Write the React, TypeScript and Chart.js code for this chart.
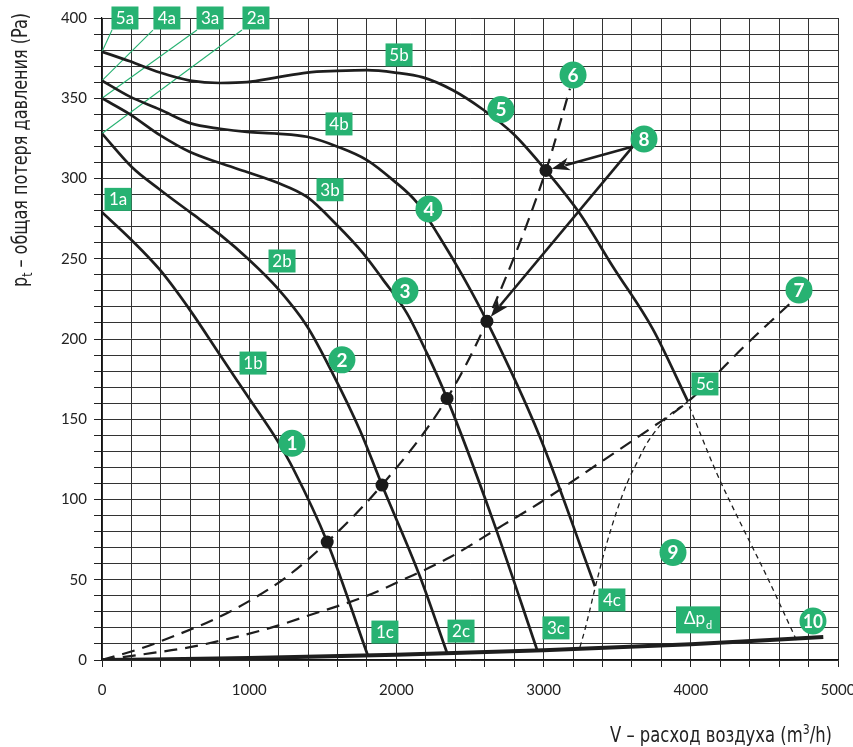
import React, { useEffect, useRef } from "react";
import { Chart, registerables } from "chart.js";

Chart.register(...registerables);

// ---- Fan curves (V m3/h, pt Pa) ----
const FAN1_X = [0, 197, 394, 598, 802, 992, 1189, 1300, 1530, 1805];
const FAN1_Y = [279, 262, 243, 218, 190, 164, 137, 119, 73.5, 3];
const FAN2_X = [0, 204, 394, 598, 802, 992, 1189, 1393, 1570, 1753, 1902, 2160, 2344];
const FAN2_Y = [328, 307, 293, 279, 265, 250, 232, 208, 178, 143, 109, 52, 4.4];
const FAN3_X = [0, 190, 394, 598, 802, 985, 1189, 1393, 1596, 1773, 1909, 2072, 2208, 2344, 2656, 2955];
const FAN3_Y = [350, 340, 327, 316.5, 309.6, 304, 297.5, 288.5, 271, 253.5, 237, 216, 191, 163, 87, 6.5];
const FAN4_X = [0, 190, 394, 598, 802, 985, 1189, 1393, 1596, 1800, 1977, 2140, 2290, 2452, 2615, 2975, 3349];
const FAN4_Y = [361, 351, 343, 334.5, 331, 329, 328, 326, 320, 311.5, 299, 285, 264, 239, 211, 139, 46];
const FAN5_X = [0, 190, 394, 598, 802, 985, 1189, 1393, 1596, 1800, 1990, 2180, 2384, 2588, 2792, 3016, 3247, 3471, 3743, 3981];
const FAN5_Y = [379, 373, 366, 361, 359.5, 360, 363, 366, 367, 367.5, 366, 363, 355, 343, 328, 305, 278, 245, 206, 161];

// ---- Operating points ----
const OP_X = [1530, 1902, 2344, 2615, 3016];
const OP_Y = [73.5, 109, 163, 211, 305];

// ---- System curves (dashed) ----
const SYS6_X = [0, 258, 509, 754, 1005, 1257, 1530, 1902, 2344, 2615, 3016, 3179];
const SYS6_Y = [0, 7, 15.6, 25, 37, 52, 73.5, 109, 163, 211, 305, 356];
const SYS7_X = [0, 346, 598, 1094, 1413, 1800, 2045, 2364, 2724, 2975, 3383, 3722, 3981, 4381, 4673];
const SYS7_Y = [0, 4.4, 8, 18.7, 28, 40, 50, 64, 84, 98, 123, 144, 161, 197, 222];

// ---- Thin dashed boundaries of area 9 ----
const EDGE_L_X = [3247, 3281, 3369, 3430, 3498, 3566, 3634, 3702, 3850, 3981];
const EDGE_L_Y = [8, 19, 52, 73, 93, 110, 123, 135, 152, 161];
const EDGE_R_X = [3990, 4178, 4334, 4517, 4720];
const EDGE_R_Y = [158, 116, 86, 52, 12];

// ---- Dynamic pressure line Δpd ----
const DPD_X = [0, 1000, 2000, 3000, 4000, 4900];
const DPD_Y = [0, 1.2, 3.2, 6, 9.8, 14.3];

// ---- Green leader lines for a-labels ----
const GUIDE_FROM_X = [68, 346, 645, 951];
const GUIDE_FROM_Y = [392.5, 392.5, 392.5, 392.5];
const GUIDE_TO_Y = [379, 361, 350, 328];

// ---- Arrows from label 8 ----
const ARROW_FROM_X = 3607;
const ARROW_FROM_Y = 320;
const ARROW_TO_X = [3016, 2615];
const ARROW_TO_Y = [305, 211];

// ---- Box labels ----
const BOX_TEXT = ["5a", "4a", "3a", "2a", "1a", "1b", "2b", "3b", "4b", "5b", "1c", "2c", "3c", "4c", "5c", "Δp_d"];
const BOX_X = [156, 441, 734, 1046, 109, 1026, 1223, 1549, 1610, 2018, 1922, 2439, 3084, 3464, 4096, 4049];
const BOX_Y = [400, 400, 400, 400, 287, 185, 248.6, 293, 334, 377, 17.4, 18, 20, 37.4, 172, 25];

// ---- Circle labels ----
const CIRCLE_TEXT = ["1", "2", "3", "4", "5", "6", "7", "8", "9", "10"];
const CIRCLE_X = [1291, 1630, 2058, 2221, 2710, 3200, 4735, 3682, 3879, 4830];
const CIRCLE_Y = [135, 187, 230, 281, 343, 364.5, 230.5, 324.6, 67, 24.3];

// ---- Axis ----
const X_MIN = 0, X_MAX = 5000, X_STEP = 200, X_LABEL_EVERY = 1000;
const Y_MIN = 0, Y_MAX = 400, Y_STEP = 10, Y_LABEL_EVERY = 50;
const X_TITLE = ["V – расход воздуха (m", "3", "/h)"];
const Y_TITLE = ["p", "t", " – общая потеря давления (Pa)"];

const GREEN = "#27b272";
const INK = "#1e1e1e";
const TITLE_FONT = '"Liberation Sans Narrow", "DejaVu Sans Condensed", sans-serif';
const LABEL_FONT = 'Lato, "Open Sans", sans-serif';

const pts = (xs: number[], ys: number[]) => xs.map((x, i) => ({ x, y: ys[i] }));

function drawTitle(
  ctx: CanvasRenderingContext2D,
  parts: string[],
  subDy: number,
  targetW: number
) {
  const big = `21px ${TITLE_FONT}`, small = `14px ${TITLE_FONT}`;
  ctx.font = big;
  const w0 = ctx.measureText(parts[0]).width;
  const w2 = ctx.measureText(parts[2]).width;
  ctx.font = small;
  const w1 = ctx.measureText(parts[1]).width;
  const total = w0 + w1 + w2;
  const k = targetW / total;
  ctx.scale(k, 1);
  ctx.font = big;
  ctx.fillText(parts[0], 0, 0);
  ctx.font = small;
  ctx.fillText(parts[1], w0, subDy);
  ctx.font = big;
  ctx.fillText(parts[2], w0 + w1, 0);
}

const annotPlugin = {
  id: "annot",
  afterDatasetsDraw(chart: any) {
    const ctx = chart.ctx as CanvasRenderingContext2D;
    const sx = chart.scales.x, sy = chart.scales.y;
    const px = (v: number) => sx.getPixelForValue(v);
    const py = (v: number) => sy.getPixelForValue(v);
    ctx.save();

    // arrows
    const fx = px(ARROW_FROM_X), fy = py(ARROW_FROM_Y);
    ARROW_TO_X.forEach((tv, i) => {
      const tx = px(tv), ty = py(ARROW_TO_Y[i]);
      const ang = Math.atan2(ty - fy, tx - fx);
      const c = Math.cos(ang), s = Math.sin(ang);
      const tipX = tx - c * 6, tipY = ty - s * 6;
      const hl = 18, hw = 6.5;
      const bx = tipX - c * hl, by = tipY - s * hl;
      ctx.strokeStyle = INK;
      ctx.lineWidth = 2.6;
      ctx.beginPath();
      ctx.moveTo(fx, fy);
      ctx.lineTo(bx + c * 4, by + s * 4);
      ctx.stroke();
      ctx.fillStyle = INK;
      ctx.beginPath();
      ctx.moveTo(tipX, tipY);
      ctx.lineTo(bx - s * hw, by + c * hw);
      ctx.lineTo(bx + c * 5, by + s * 5);
      ctx.lineTo(bx + s * hw, by - c * hw);
      ctx.closePath();
      ctx.fill();
    });

    // boxes
    BOX_TEXT.forEach((t, i) => {
      const cx = px(BOX_X[i]), cy = py(BOX_Y[i]);
      const sub = t.includes("_");
      const w = sub ? 44 : 27, h = sub ? 27 : 23;
      ctx.fillStyle = GREEN;
      ctx.fillRect(cx - w / 2, cy - h / 2, w, h);
      ctx.fillStyle = "#ffffff";
      ctx.textBaseline = "alphabetic";
      if (sub) {
        const [main, s2] = t.split("_");
        ctx.font = `17px ${LABEL_FONT}`;
        const w1 = ctx.measureText(main).width;
        ctx.font = `11px ${LABEL_FONT}`;
        const w2 = ctx.measureText(s2).width;
        const x0 = cx - (w1 + w2 + 1) / 2;
        ctx.textAlign = "left";
        ctx.font = `17px ${LABEL_FONT}`;
        ctx.fillText(main, x0, cy + 4);
        ctx.font = `11px ${LABEL_FONT}`;
        ctx.fillText(s2, x0 + w1 + 1, cy + 9);
      } else {
        ctx.font = `17px ${LABEL_FONT}`;
        ctx.textAlign = "center";
        ctx.fillText(t, cx, cy + 6);
      }
    });

    // circles
    CIRCLE_TEXT.forEach((t, i) => {
      const cx = px(CIRCLE_X[i]), cy = py(CIRCLE_Y[i]);
      ctx.fillStyle = GREEN;
      ctx.beginPath();
      ctx.arc(cx, cy, 13.5, 0, Math.PI * 2);
      ctx.fill();
      ctx.fillStyle = "#ffffff";
      ctx.font = `bold 19px ${LABEL_FONT}`;
      ctx.textAlign = "center";
      ctx.textBaseline = "alphabetic";
      const w = ctx.measureText(t).width;
      if (w > 20) {
        ctx.save();
        ctx.translate(cx, cy + 7);
        ctx.scale(20 / w, 1);
        ctx.fillText(t, 0, 0);
        ctx.restore();
      } else {
        ctx.fillText(t, cx, cy + 7);
      }
    });

    // axis titles
    ctx.fillStyle = "#222";
    ctx.textAlign = "left";
    ctx.textBaseline = "alphabetic";
    ctx.save();
    ctx.translate(610, 742);
    drawTitle(ctx, X_TITLE, -8, 222);
    ctx.restore();

    ctx.save();
    ctx.translate(27, 287);
    ctx.rotate(-Math.PI / 2);
    drawTitle(ctx, Y_TITLE, 5, 274);
    ctx.restore();

    ctx.restore();
  },
};

export default function App() {
  const ref = useRef<HTMLCanvasElement | null>(null);

  useEffect(() => {
    if (!ref.current) return;
    const curve = (xs: number[], ys: number[]) => ({
      data: pts(xs, ys),
      borderColor: INK,
      borderWidth: 2.7,
      pointRadius: 0,
      cubicInterpolationMode: "monotone" as const,
      fill: false,
    });
    const dashed = (xs: number[], ys: number[]) => ({
      data: pts(xs, ys),
      borderColor: INK,
      borderWidth: 2.2,
      borderDash: [13, 8],
      pointRadius: 0,
      cubicInterpolationMode: "monotone" as const,
      fill: false,
    });
    const thin = (xs: number[], ys: number[]) => ({
      data: pts(xs, ys),
      borderColor: INK,
      borderWidth: 1.3,
      borderDash: [5, 4],
      pointRadius: 0,
      cubicInterpolationMode: "monotone" as const,
      fill: false,
    });
    const guides = GUIDE_FROM_X.map((gx, i) => ({
      data: [{ x: gx, y: GUIDE_FROM_Y[i] }, { x: 0, y: GUIDE_TO_Y[i] }],
      borderColor: GREEN,
      borderWidth: 1.1,
      pointRadius: 0,
      tension: 0,
      fill: false,
      clip: false as any,
    }));

    const chart = new Chart(ref.current, {
      type: "line",
      data: {
        datasets: [
          {
            data: pts(OP_X, OP_Y),
            showLine: false,
            pointRadius: 6.5,
            pointBackgroundColor: "#1a1a1a",
            pointBorderWidth: 0,
            borderColor: "#1a1a1a",
          } as any,
          curve(FAN1_X, FAN1_Y),
          curve(FAN2_X, FAN2_Y),
          curve(FAN3_X, FAN3_Y),
          curve(FAN4_X, FAN4_Y),
          curve(FAN5_X, FAN5_Y),
          dashed(SYS6_X, SYS6_Y),
          dashed(SYS7_X, SYS7_Y),
          thin(EDGE_L_X, EDGE_L_Y),
          thin(EDGE_R_X, EDGE_R_Y),
          {
            data: pts(DPD_X, DPD_Y),
            borderColor: INK,
            borderWidth: 4,
            pointRadius: 0,
            cubicInterpolationMode: "monotone",
            fill: false,
          } as any,
          ...guides,
        ],
      },
      options: {
        animation: false,
        responsive: false,
        maintainAspectRatio: false,
        events: [],
        layout: { padding: { top: 18, right: 15, left: 0, bottom: 0 } },
        plugins: { legend: { display: false }, tooltip: { enabled: false } },
        scales: {
          x: {
            type: "linear",
            min: X_MIN,
            max: X_MAX,
            afterFit: (s: any) => {
              s.height = 87;
              s.paddingLeft = 0;
              s.paddingRight = 0;
            },
            ticks: {
              stepSize: X_STEP,
              autoSkip: false,
              maxRotation: 0,
              padding: 14,
              color: "#222",
              font: { family: LABEL_FONT, size: 15 },
              callback: (v: any) => (Number(v) % X_LABEL_EVERY === 0 ? String(v) : ""),
            },
            grid: { color: "#333", lineWidth: 1, tickLength: 7, tickColor: "#222" },
            border: { color: "#111", width: 1.2 },
          },
          y: {
            type: "linear",
            min: Y_MIN,
            max: Y_MAX,
            afterFit: (s: any) => {
              s.width = 102;
              s.paddingTop = 0;
              s.paddingBottom = 0;
            },
            ticks: {
              stepSize: Y_STEP,
              autoSkip: false,
              padding: 7,
              color: "#222",
              font: { family: LABEL_FONT, size: 15 },
              callback: (v: any) => (Number(v) % Y_LABEL_EVERY === 0 ? String(v) : ""),
            },
            grid: { color: "#333", lineWidth: 1, tickLength: 8, tickColor: "#222" },
            border: { color: "#111", width: 1.2 },
          },
        },
      },
      plugins: [annotPlugin],
    });
    return () => chart.destroy();
  }, []);

  return (
    <div style={{ position: "fixed", left: 0, top: 0, width: 853, height: 747, background: "#fff" }}>
      <canvas ref={ref} width={853} height={747} style={{ display: "block", width: 853, height: 747 }} />
    </div>
  );
}
